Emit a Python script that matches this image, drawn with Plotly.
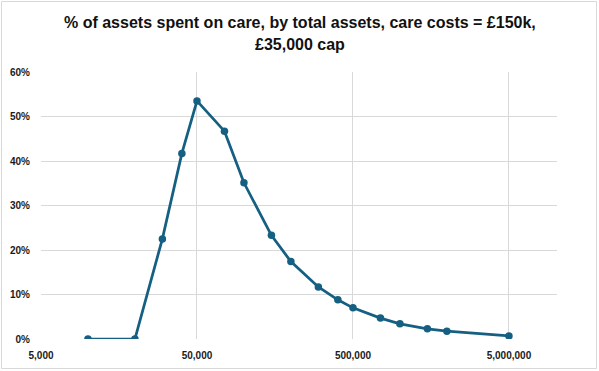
import plotly.graph_objects as go

total_assets = [10000, 20000, 30000, 40000, 50000, 75000, 100000, 150000, 200000,
                300000, 400000, 500000, 750000, 1000000, 1500000, 2000000, 5000000]
pct_spent = [0.0, 0.0, 0.225, 0.417, 0.535, 0.467, 0.351, 0.233, 0.174,
             0.117, 0.088, 0.070, 0.047, 0.034, 0.023, 0.0175, 0.007]

x_tickvals = [5000, 50000, 500000, 5000000]
x_ticktext = ["5,000", "50,000", "500,000", "5,000,000"]
y_tickvals = [0, 0.1, 0.2, 0.3, 0.4, 0.5, 0.6]
y_ticktext = ["0%", "10%", "20%", "30%", "40%", "50%", "60%"]

title_lines = ["% of assets spent on care, by total assets, care costs = £150k,",
               "£35,000 cap"]

color = "#156082"
grid = "#D9D9D9"

fig = go.Figure()
fig.add_trace(go.Scatter(
    x=total_assets, y=pct_spent, mode="lines+markers",
    line=dict(color=color, width=2.75),
    marker=dict(color=color, size=7.5),
    showlegend=False, hoverinfo="skip",
))

W, H = 599, 371
ml, mr, mt, mb = 41, 42, 72, 32
pw, ph = W - ml - mr, H - mt - mb


def px_to_paper_y(py):
    return 1 + (mt - py) / ph


def px_to_paper_x(px):
    return (px - ml) / pw


title_font = dict(family="Liberation Sans, Arial, sans-serif", size=16, color="#111111")
annotations = []
for line, py in zip(title_lines, [22, 45]):
    annotations.append(dict(text="<b>" + line + "</b>", xref="paper", yref="paper",
                            x=px_to_paper_x(299.5), y=px_to_paper_y(py),
                            xanchor="center", yanchor="middle", showarrow=False,
                            font=title_font))

tick_font = dict(family="Liberation Sans, Arial, sans-serif", size=10, color="#1a1a1a", weight="bold")

fig.update_layout(
    width=W, height=H,
    margin=dict(l=ml, r=mr, t=mt, b=mb, autoexpand=False),
    paper_bgcolor="white", plot_bgcolor="white",
    font=dict(family="Liberation Sans, Arial, sans-serif", size=10, color="#1a1a1a"),
    annotations=annotations,
    xaxis=dict(type="log", range=[3.69897, 7.007], tickvals=x_tickvals, ticktext=x_ticktext,
               showgrid=True, gridcolor=grid, gridwidth=1, zeroline=False, automargin=False,
               showline=False, ticks="", ticklabelstandoff=9, tickfont=tick_font),
    yaxis=dict(range=[0, 0.6], tickvals=y_tickvals, ticktext=y_ticktext,
               showgrid=True, gridcolor=grid, gridwidth=1, zeroline=False, automargin=False,
               showline=False, ticks="", ticklabelstandoff=10, tickfont=tick_font),
    shapes=[dict(type="rect", xref="paper", yref="paper",
                 x0=-(ml - 1.5) / pw, x1=1 + (mr - 2.5) / pw,
                 y0=-(mb - 2.5) / ph, y1=1 + (mt - 1.5) / ph,
                 line=dict(color="#D9D9D9", width=1), layer="below")],
)

fig.write_html("out.html", config={"displayModeBar": False},
               post_script="document.body.style.margin='0';document.body.style.overflow='hidden';")
